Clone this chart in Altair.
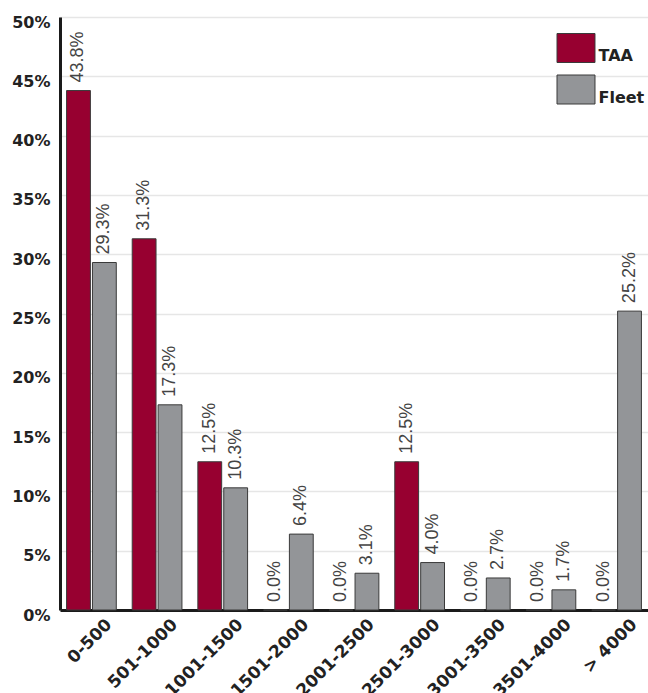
import altair as alt
import pandas as pd

categories = ["0-500", "501-1000", "1001-1500", "1501-2000", "2001-2500",
              "2501-3000", "3001-3500", "3501-4000", "> 4000"]
taa = [43.8, 31.3, 12.5, 0.0, 0.0, 12.5, 0.0, 0.0, 0.0]
fleet = [29.3, 17.3, 10.3, 6.4, 3.1, 4.0, 2.7, 1.7, 25.2]
series = ["TAA", "Fleet"]
colors = ["#970030", "#939598"]
y_ticks = [0, 5, 10, 15, 20, 25, 30, 35, 40, 45, 50]

rows = []
for c, a, f in zip(categories, taa, fleet):
    rows.append({"cat": c, "series": "TAA", "value": a})
    rows.append({"cat": c, "series": "Fleet", "value": f})
df = pd.DataFrame(rows)

BOLD = "DejaVu Sans"
x_enc = alt.X("cat:N", sort=categories, title=None,
              scale=alt.Scale(paddingInner=0.2424, paddingOuter=0.1),
              axis=alt.Axis(labelAngle=-45, labelFont=BOLD, labelFontWeight="bold",
                            labelFontSize=17, labelColor="#222", ticks=False,
                            domainColor="#1a1a1a", domainWidth=3, labelPadding=6,
                            labelOffset=12))
y_enc = alt.Y("value:Q", title=None,
              scale=alt.Scale(domain=[0, 50], nice=False),
              axis=alt.Axis(values=y_ticks, labelExpr="datum.value + '%'",
                            labelFont=BOLD, labelFontWeight="bold", labelFontSize=16,
                            labelColor="#222", ticks=False, domainColor="#1a1a1a",
                            domainWidth=3, labelPadding=10, labelOffset=5,
                            gridColor="#e6e6e6", gridWidth=1.5))
xo = alt.XOffset("series:N", sort=series, scale=alt.Scale(paddingInner=0.08))

bars = alt.Chart(df).mark_bar(stroke="#3a3a3a", strokeWidth=1).encode(
    x=x_enc, y=y_enc, xOffset=xo,
    color=alt.Color("series:N", sort=series,
                    scale=alt.Scale(domain=series, range=colors),
                    legend=alt.Legend(title=None, orient="none", legendX=501, legendY=16,
                                      symbolType="M-1.31,-1H1.31V1H-1.31Z",
                                      symbolSize=841, symbolStrokeColor="#3a3a3a",
                                      symbolStrokeWidth=1, symbolOpacity=1,
                                      labelFont=BOLD, labelFontWeight="bold",
                                      labelFontSize=16, labelColor="#222",
                                      labelOffset=7.5, labelBaseline="top",
                                      rowPadding=7.5, padding=0)),
)

labels = alt.Chart(df).transform_calculate(
    label="format(datum.value, '.1f') + '%'"
).mark_text(angle=270, align="left", baseline="middle", dx=8,
            font="Liberation Sans", fontSize=18, color="#444").encode(
    x=x_enc, y=y_enc, xOffset=xo, text="label:N")

chart = (bars + labels).properties(
    width=588, height=593,
    padding={"left": 60, "top": 17, "right": 0, "bottom": 83},
    autosize=alt.AutoSizeParams(type="none"),
).configure_view(stroke=None).configure(background="white")

chart.save("out.html", embed_options={"renderer": "svg", "actions": False})
